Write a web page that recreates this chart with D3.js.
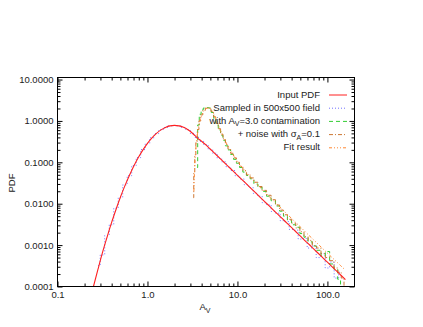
<!DOCTYPE html>
<html><head><meta charset="utf-8">
<script src="https://cdn.jsdelivr.net/npm/d3@7"></script>
<style>
html,body{margin:0;padding:0;background:#fff;}
svg text{font-family:"Liberation Sans",Arial,sans-serif;fill:#222;}
</style></head>
<body><svg id="c" width="423" height="327"></svg>
<script>
// ---- data ----
const avGrid = [0.251,0.282,0.316,0.355,0.398,0.447,0.501,0.562,0.631,0.708,0.794,0.891,1.0,1.122,1.259,1.413,1.585,1.778,1.995,2.239,2.512,2.818,3.162,3.548,3.981,4.467,5.012,5.623,6.310,7.079,7.943,8.913,10.0,11.22,12.59,14.13,15.85,17.78,19.95,22.39,25.12,28.18,31.62,35.48,39.81,44.67,50.12,56.23,63.10,70.79,79.43,89.13,100.0,112.2,125.9,141.3,158.5];
const pdfInput = [1.0e-4,2.62e-4,6.55e-4,1.54e-3,3.44e-3,7.24e-3,0.0145,0.0273,0.0488,0.0826,0.132,0.200,0.287,0.389,0.499,0.607,0.697,0.759,0.780,0.759,0.700,0.611,0.504,0.394,0.324,0.263,0.207,0.163,0.128,0.1005,0.0789,0.0619,0.0486,0.0382,0.0300,0.0236,0.0185,0.0145,0.0114,8.95e-3,7.03e-3,5.52e-3,4.34e-3,3.40e-3,2.67e-3,2.10e-3,1.65e-3,1.29e-3,1.02e-3,7.98e-4,6.27e-4,4.92e-4,3.86e-4,3.03e-4,2.38e-4,1.87e-4,1.47e-4];
const pdfSampled = [null,3.2e-4,5.8e-4,1.7e-3,3.1e-3,7.8e-3,0.0140,0.0285,0.0475,0.084,0.130,0.203,0.284,0.392,0.495,0.610,0.694,0.762,0.776,0.762,0.697,0.615,0.500,0.398,0.320,0.266,0.203,0.166,0.125,0.103,0.0770,0.0635,0.0472,0.0395,0.0288,0.0245,0.0178,0.0152,0.0106,9.4e-3,6.5e-3,5.9e-3,3.9e-3,3.7e-3,2.4e-3,2.3e-3,1.4e-3,1.45e-3,0.85e-3,9.5e-4,5.0e-4,6.2e-4,2.8e-4,3.9e-4,1.6e-4,2.2e-4,null];

const avContam = [3.55,3.68,3.85,4.05,4.3,4.6,4.95,5.3,5.6,5.95,6.3,6.7,7.1,7.6,8.1,8.7,9.4,10.1,11,12,13.2,14.5,16,17.8,19.8,22.4,25,28,31,34,38,42,47,52,58,64,72,80,90,100,112,125,135,145];
const pdfContam = [0.075,0.80,1.45,1.85,2.05,2.1,2.05,1.6,1.15,0.80,0.60,0.45,0.34,0.25,0.20,0.155,0.118,0.095,0.075,0.058,0.048,0.040,0.030,0.025,0.0198,0.0152,0.0118,0.0088,0.0066,0.0050,0.0040,0.0031,0.0027,0.0019,0.00155,0.0012,0.00095,0.00075,0.00055,0.0007,0.00035,0.00026,0.00015,0.00011];

const avNoise = [3.23,3.31,3.40,3.50,3.65,3.82,4.0,4.25,4.55,4.9,5.25,5.6,5.95,6.3,6.7,7.1,7.6,8.1,8.7,9.4,10.1,11,12,13.2,14.5,16,17.8,19.8,22.4,25,28,31,34,38,42,47,52,58,64,72,80,90,100,112,125,137,148,158];
const pdfNoise = [0.014,0.057,0.15,0.30,0.62,1.0,1.4,1.8,2.05,2.05,1.7,1.25,0.88,0.65,0.48,0.37,0.27,0.21,0.165,0.128,0.100,0.080,0.063,0.050,0.042,0.033,0.026,0.021,0.0160,0.0125,0.0093,0.0070,0.0054,0.0042,0.0034,0.0026,0.0021,0.0016,0.0013,0.00098,0.00085,0.00062,0.00050,0.00042,0.00028,0.00022,0.00016,0.00010];

const avFit = [3.28,3.35,3.45,3.6,3.8,4.0,4.3,4.6,4.9,5.2,5.6,6.0,6.5,7.0,7.6,8.3,9.2,10.2,11.5,13,15,17.5,20.5,24,28,33,40,48,58,70,85,100,120,140,155];
const pdfFit = [0.02,0.08,0.22,0.5,0.95,1.35,1.8,2.02,2.05,1.8,1.3,0.9,0.58,0.40,0.28,0.20,0.14,0.100,0.072,0.053,0.037,0.026,0.0185,0.013,0.0094,0.0066,0.0044,0.0030,0.0020,0.00135,0.00090,0.00064,0.00044,0.00032,0.00026];

const xTicks = [0.1,1,10,100];
const yTicks = [1e-4,1e-3,1e-2,1e-1,1,10];
const legendLabels = ["Input PDF","Sampled in 500x500 field","with A_V=3.0 contamination","+ noise with σ_A=0.1","Fit result"];

// ---- chart ----
const L=57.5,R=354.5,T=77.5,B=286.5;
const svg=d3.select("#c");
const x=d3.scaleLog().domain([0.1,200]).range([L,R]);
const y=d3.scaleLog().domain([1e-4,11.2]).range([B,T]);

function minorTicks(dom, majors){
  const out=[];
  const lo=Math.floor(Math.log10(dom[0])), hi=Math.ceil(Math.log10(dom[1]));
  for(let e=lo;e<=hi;e++) for(let m=2;m<=9;m++){const v=m*Math.pow(10,e); if(v>dom[0]&&v<dom[1]) out.push(v);}
  return out;
}
const xMinor=minorTicks(x.domain()), yMinor=minorTicks(y.domain());

const clip=svg.append("clipPath").attr("id","pc").append("rect").attr("x",L).attr("y",T).attr("width",R-L).attr("height",B-T);
const plot=svg.append("g").attr("clip-path","url(#pc)");

function series(xs, ys, color, dash, curve, width){
  const pts=xs.map((a,i)=>[a,ys[i]]).filter(d=>d[1]!=null);
  plot.append("path").datum(pts)
    .attr("d",d3.line().x(d=>x(d[0])).y(d=>y(d[1])).curve(curve))
    .attr("fill","none").attr("stroke",color).attr("stroke-width",width||1)
    .attr("stroke-dasharray",dash);
}
const cBlue="#7070ff", cRed="#ff2020", cGreen="#33cc33", cNoise="#cc7733", cFit="#ff8833";
series(avGrid,pdfSampled,cBlue,"1,2",d3.curveStep);
series(avContam,pdfContam,cGreen,"4,3",d3.curveStep);
series(avNoise,pdfNoise,cNoise,"4,2,1,2",d3.curveStep);
series(avFit,pdfFit,cFit,"3,2,1,2,1,2,1,2",d3.curveMonotoneX);
series(avGrid,pdfInput,cRed,null,d3.curveMonotoneX,1.1);

// axes
function ax(gen, tx, ty){ const g=svg.append("g").attr("transform",`translate(${tx},${ty})`).call(gen); g.select(".domain").remove(); g.selectAll("line").attr("stroke","#000"); return g;}
const fx=d3.format(".1f"), fy=d3.format(".4f");
ax(d3.axisBottom(x).tickValues(xTicks).tickFormat(fx).tickSizeInner(-5).tickSizeOuter(0).tickPadding(5),0,B).selectAll("text").style("font-size","9.5px").attr("fill","#222");
ax(d3.axisBottom(x).tickValues(xMinor).tickFormat("").tickSizeInner(-3).tickSizeOuter(0),0,B);
ax(d3.axisTop(x).tickValues(xTicks).tickFormat("").tickSizeInner(-5).tickSizeOuter(0),0,T);
ax(d3.axisTop(x).tickValues(xMinor).tickFormat("").tickSizeInner(-3).tickSizeOuter(0),0,T);
ax(d3.axisLeft(y).tickValues(yTicks).tickFormat(fy).tickSizeInner(-5).tickSizeOuter(0).tickPadding(4),L,0).selectAll("text").style("font-size","9.5px").attr("fill","#222");
ax(d3.axisLeft(y).tickValues(yMinor).tickFormat("").tickSizeInner(-3).tickSizeOuter(0),L,0);
ax(d3.axisRight(y).tickValues(yTicks).tickFormat("").tickSizeInner(-5).tickSizeOuter(0),R,0);
ax(d3.axisRight(y).tickValues(yMinor).tickFormat("").tickSizeInner(-3).tickSizeOuter(0),R,0);
svg.append("rect").attr("x",L).attr("y",T).attr("width",R-L).attr("height",B-T).attr("fill","none").attr("stroke","#000").attr("stroke-width",1);

// axis titles
const xt=svg.append("text").attr("x",205).attr("y",310).attr("text-anchor","middle").style("font-size","9.5px");
xt.append("tspan").text("A");
xt.append("tspan").text("V").attr("dy",2.5).style("font-size","7px");
svg.append("text").attr("transform","translate(15,183) rotate(-90)").attr("text-anchor","middle").style("font-size","9.5px").text("PDF");

// legend
const legColors=[cRed,cBlue,cGreen,cNoise,cFit];
const legDash=[null,"1,2","4,3","4,2,1,2","3,2,1,2,1,2,1,2"];
legendLabels.forEach((lab,i)=>{
  const ly=95+i*13.2;
  svg.append("line").attr("x1",329).attr("x2",347).attr("y1",ly).attr("y2",ly)
    .attr("stroke",legColors[i]).attr("stroke-width",1).attr("stroke-dasharray",legDash[i]);
  const t=svg.append("text").attr("x",320).attr("y",ly+2.5).attr("text-anchor","end").style("font-size","9.5px");
  const m=lab.match(/^(.*?)([Aσ])_([A-Z])(.*)$/);
  if(m){
    t.append("tspan").text(m[1]+m[2]);
    t.append("tspan").text(m[3]).attr("dy",2.5).style("font-size","7px");
    t.append("tspan").text(m[4]).attr("dy",-2.5);
  } else t.text(lab);
});
</script></body></html>
